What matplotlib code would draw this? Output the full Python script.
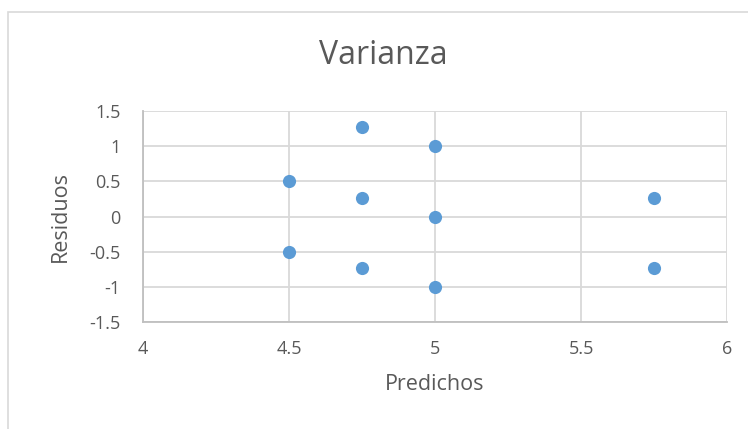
import matplotlib.pyplot as plt
from matplotlib.patches import Rectangle

predichos = [4.5, 4.5, 4.75, 4.75, 4.75, 5, 5, 5, 5.75, 5.75]
residuos = [0.5, -0.5, 1.27, 0.27, -0.73, 1, 0, -1, 0.27, -0.73]
xticks = [4, 4.5, 5, 5.5, 6]
yticks = [-1.5, -1, -0.5, 0, 0.5, 1, 1.5]

plt.rcParams['font.family'] = ['Open Sans', 'DejaVu Sans']
text_color = "#595959"
grid_color = "#d9d9d9"

fig = plt.figure(figsize=(7.48, 4.29), dpi=100)
# chart area border (cut off at right and bottom)
fig.patches.append(Rectangle((8 / 748, -0.1), 1.2, 1 - 12 / 429 + 0.1,
                             transform=fig.transFigure, fill=False,
                             edgecolor=grid_color, linewidth=1.2))

ax = fig.add_axes([143 / 748, 1 - 322 / 429, (727 - 143) / 748, (322 - 111) / 429])
ax.scatter(predichos, residuos, s=90, color="#5b9bd5", zorder=3, linewidths=0)

ax.set_xlim(4, 6)
ax.set_ylim(-1.5, 1.5)
ax.set_xticks(xticks)
ax.set_xticklabels([f"{t:g}" for t in xticks])
ax.set_yticks(yticks)
ax.set_yticklabels([f"{t:g}" for t in yticks])
ax.grid(True, color=grid_color, linewidth=1.3)
ax.set_axisbelow(True)
for side in ["top", "right"]:
    ax.spines[side].set_visible(False)
for side in ["left", "bottom"]:
    ax.spines[side].set_color("#bfbfbf")
    ax.spines[side].set_linewidth(1.3)
ax.tick_params(length=0, labelsize=13, labelcolor=text_color)
ax.tick_params(axis="x", pad=13)
ax.tick_params(axis="y", pad=16)

fig.text(383 / 748, 1 - 55 / 429, "Varianza", ha="center", va="center",
         fontsize=23, color=text_color)
fig.text(435 / 748, 1 - 384 / 429, "Predichos", ha="center", va="center",
         fontsize=15.5, color=text_color)
fig.text(60 / 748, 1 - 217 / 429, "Residuos", ha="center", va="center",
         rotation=90, fontsize=15.5, color=text_color)

fig.savefig("out.png", dpi=100)
